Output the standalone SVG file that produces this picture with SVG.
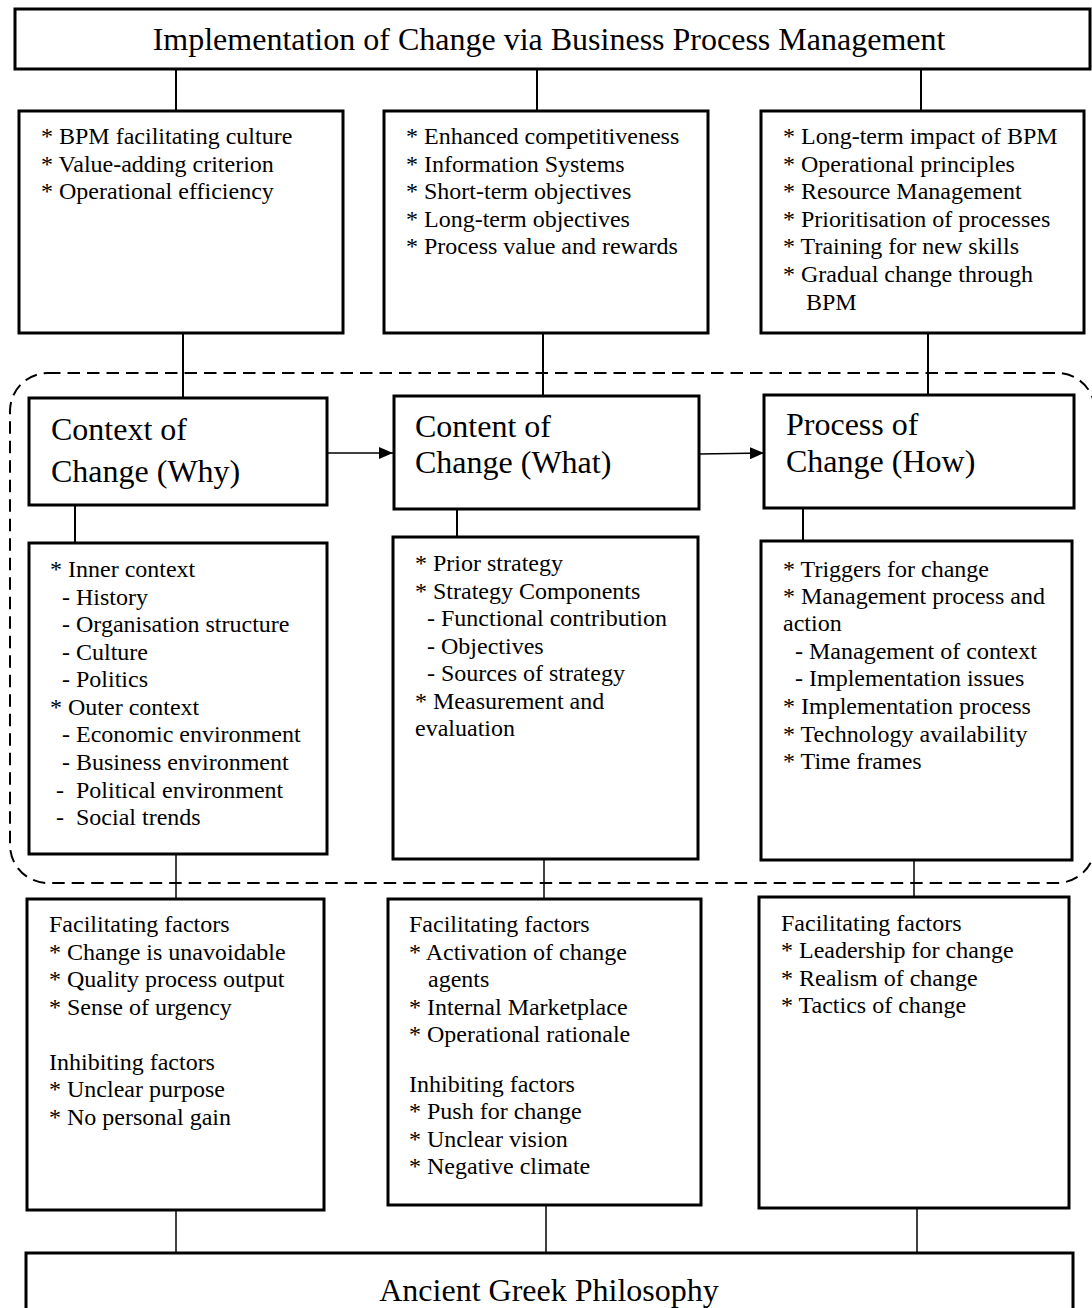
<svg xmlns="http://www.w3.org/2000/svg" width="1092" height="1308" viewBox="0 0 1092 1308">
<style>
text{font-family:"Liberation Serif","Times New Roman",serif;fill:#000}
.b{fill:#fff;stroke:#000;stroke-width:3}
.t{font-size:24px}
.h{font-size:32px}
.c{stroke:#000;stroke-width:2;fill:none}
.cl{stroke:#000;stroke-width:1.5;fill:none}
</style>
<defs>
<marker id="ah" markerWidth="14" markerHeight="12" refX="14" refY="6" orient="auto" markerUnits="userSpaceOnUse" viewBox="0 0 14 12">
<path d="M0,0 L14,6 L0,12 z" fill="#000"/>
</marker>
</defs>
<rect x="0" y="0" width="1092" height="1308" fill="#fff"/>
<g id="connectors">
<line class="c" x1="176" y1="69" x2="176" y2="111"/>
<line class="c" x1="537" y1="69" x2="537" y2="111"/>
<line class="c" x1="921" y1="69" x2="921" y2="111"/>
<line class="c" x1="183" y1="333" x2="183" y2="398"/>
<line class="c" x1="543" y1="333" x2="543" y2="396"/>
<line class="c" x1="928" y1="333" x2="928" y2="395"/>
<line class="cl" x1="327" y1="453" x2="393" y2="453" marker-end="url(#ah)"/>
<line class="cl" x1="699" y1="454" x2="764" y2="453" marker-end="url(#ah)"/>
<line class="c" x1="75" y1="505" x2="75" y2="543"/>
<line class="c" x1="457" y1="509" x2="457" y2="537"/>
<line class="c" x1="803" y1="508" x2="803" y2="541"/>
<line class="cl" x1="176" y1="854" x2="176" y2="899"/>
<line class="cl" x1="544" y1="859" x2="544" y2="899"/>
<line class="cl" x1="914" y1="860" x2="914" y2="897"/>
<line class="cl" x1="176" y1="1210" x2="176" y2="1253"/>
<line class="cl" x1="546" y1="1205" x2="546" y2="1253"/>
<line class="cl" x1="917" y1="1208" x2="917" y2="1253"/>
</g>
<g id="group-boundary">
<rect x="10" y="373" width="1085" height="510" rx="38" ry="38" fill="none" stroke="#000" stroke-width="2" stroke-dasharray="12.5,7"/>
</g>
<g id="title">
<rect class="b" x="15" y="9" width="1075" height="60"/>
<text class="h" x="549" y="50" text-anchor="middle">Implementation of Change via Business Process Management</text>
</g>
<g id="why-factors">
<rect class="b" x="19" y="111" width="324" height="222"/>
<text class="t" x="41" y="144">* BPM facilitating culture</text>
<text class="t" x="41" y="172">* Value-adding criterion</text>
<text class="t" x="41" y="199">* Operational efficiency</text>
</g>
<g id="what-factors">
<rect class="b" x="384" y="111" width="324" height="222"/>
<text class="t" x="406" y="144">* Enhanced competitiveness</text>
<text class="t" x="406" y="172">* Information Systems</text>
<text class="t" x="406" y="199">* Short-term objectives</text>
<text class="t" x="406" y="227">* Long-term objectives</text>
<text class="t" x="406" y="254">* Process value and rewards</text>
</g>
<g id="how-factors">
<rect class="b" x="761" y="111" width="323" height="222"/>
<text class="t" x="783" y="144">* Long-term impact of BPM</text>
<text class="t" x="783" y="172">* Operational principles</text>
<text class="t" x="783" y="199">* Resource Management</text>
<text class="t" x="783" y="227">* Prioritisation of processes</text>
<text class="t" x="783" y="254">* Training for new skills</text>
<text class="t" x="783" y="282">* Gradual change through</text>
<text class="t" x="806" y="310">BPM</text>
</g>
<g id="context">
<rect class="b" x="29" y="398" width="298" height="107"/>
<text class="h" x="51" y="440">Context of</text>
<text class="h" x="51" y="482">Change (Why)</text>
</g>
<g id="content">
<rect class="b" x="394" y="396" width="305" height="113"/>
<text class="h" x="415" y="437">Content of</text>
<text class="h" x="415" y="473">Change (What)</text>
</g>
<g id="process">
<rect class="b" x="764" y="395" width="310" height="113"/>
<text class="h" x="786" y="435">Process of</text>
<text class="h" x="786" y="472">Change (How)</text>
</g>
<g id="context-details">
<rect class="b" x="29" y="543" width="298" height="311"/>
<text class="t" x="50" y="577">* Inner context</text>
<text class="t" x="50" y="605" xml:space="preserve">  - History</text>
<text class="t" x="50" y="632" xml:space="preserve">  - Organisation structure</text>
<text class="t" x="50" y="660" xml:space="preserve">  - Culture</text>
<text class="t" x="50" y="687" xml:space="preserve">  - Politics</text>
<text class="t" x="50" y="715">* Outer context</text>
<text class="t" x="50" y="742" xml:space="preserve">  - Economic environment</text>
<text class="t" x="50" y="770" xml:space="preserve">  - Business environment</text>
<text class="t" x="50" y="798" xml:space="preserve"> -  Political environment</text>
<text class="t" x="50" y="825" xml:space="preserve"> -  Social trends</text>
</g>
<g id="content-details">
<rect class="b" x="393" y="537" width="305" height="322"/>
<text class="t" x="415" y="571">* Prior strategy</text>
<text class="t" x="415" y="599">* Strategy Components</text>
<text class="t" x="415" y="626" xml:space="preserve">  - Functional contribution</text>
<text class="t" x="415" y="654" xml:space="preserve">  - Objectives</text>
<text class="t" x="415" y="681" xml:space="preserve">  - Sources of strategy</text>
<text class="t" x="415" y="709">* Measurement and</text>
<text class="t" x="415" y="736">evaluation</text>
</g>
<g id="process-details">
<rect class="b" x="761" y="541" width="311" height="319"/>
<text class="t" x="783" y="577">* Triggers for change</text>
<text class="t" x="783" y="604">* Management process and</text>
<text class="t" x="783" y="631">action</text>
<text class="t" x="783" y="659" xml:space="preserve">  - Management of context</text>
<text class="t" x="783" y="686" xml:space="preserve">  - Implementation issues</text>
<text class="t" x="783" y="714">* Implementation process</text>
<text class="t" x="783" y="742">* Technology availability</text>
<text class="t" x="783" y="769">* Time frames</text>
</g>
<g id="why-forces">
<rect class="b" x="27" y="899" width="297" height="311"/>
<text class="t" x="49" y="932">Facilitating factors</text>
<text class="t" x="49" y="960">* Change is unavoidable</text>
<text class="t" x="49" y="987">* Quality process output</text>
<text class="t" x="49" y="1015">* Sense of urgency</text>
<text class="t" x="49" y="1070">Inhibiting factors</text>
<text class="t" x="49" y="1097">* Unclear purpose</text>
<text class="t" x="49" y="1125">* No personal gain</text>
</g>
<g id="what-forces">
<rect class="b" x="388" y="899" width="313" height="306"/>
<text class="t" x="409" y="932">Facilitating factors</text>
<text class="t" x="409" y="960">* Activation of change</text>
<text class="t" x="428" y="987">agents</text>
<text class="t" x="409" y="1015">* Internal Marketplace</text>
<text class="t" x="409" y="1042">* Operational rationale</text>
<text class="t" x="409" y="1092">Inhibiting factors</text>
<text class="t" x="409" y="1119">* Push for change</text>
<text class="t" x="409" y="1147">* Unclear vision</text>
<text class="t" x="409" y="1174">* Negative climate</text>
</g>
<g id="how-forces">
<rect class="b" x="759" y="897" width="310" height="311"/>
<text class="t" x="781" y="931">Facilitating factors</text>
<text class="t" x="781" y="958">* Leadership for change</text>
<text class="t" x="781" y="986">* Realism of change</text>
<text class="t" x="781" y="1013">* Tactics of change</text>
</g>
<g id="foundation">
<rect class="b" x="26" y="1253" width="1047" height="70"/>
<text class="h" x="549" y="1301" text-anchor="middle">Ancient Greek Philosophy</text>
</g>
</svg>
